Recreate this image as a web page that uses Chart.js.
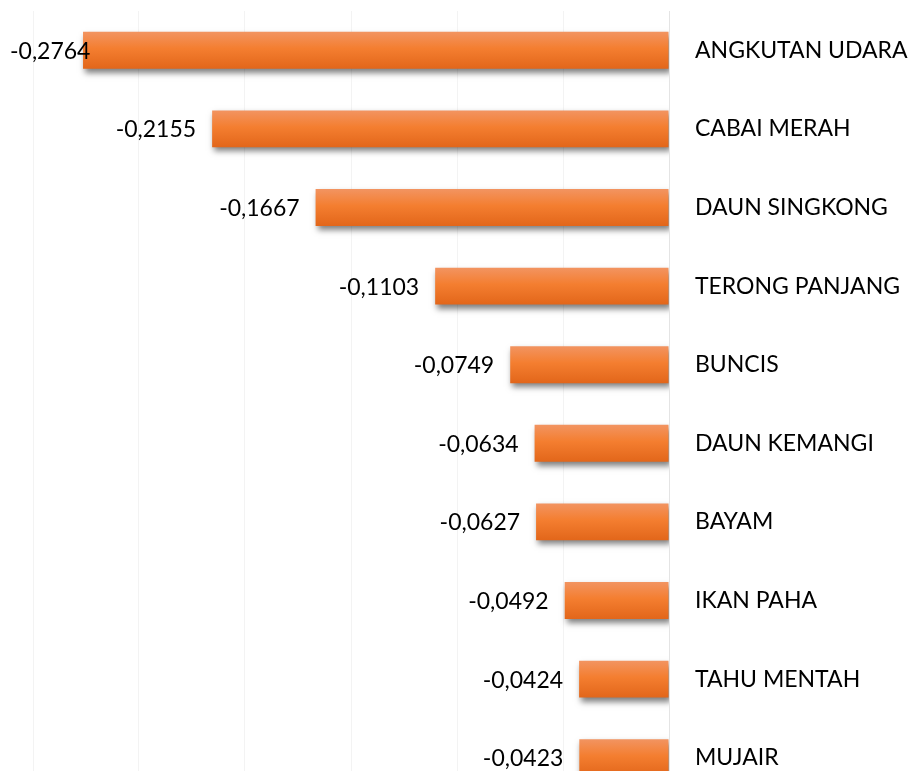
<!DOCTYPE html>
<html>
<head>
<meta charset="utf-8">
<script src="https://cdn.jsdelivr.net/npm/chart.js@4.4.0/dist/chart.umd.min.js"></script>
<style>
  html, body { margin: 0; padding: 0; background: #fff; overflow: hidden; }
  #wrap { width: 910px; height: 797px; position: relative; }
</style>
</head>
<body>
<div id="wrap"><canvas id="grafik"></canvas></div>
<script>
// kategori dan nilai
const kategori = ['ANGKUTAN UDARA', 'CABAI MERAH', 'DAUN SINGKONG', 'TERONG PANJANG', 'BUNCIS',
                  'DAUN KEMANGI', 'BAYAM', 'IKAN PAHA', 'TAHU MENTAH', 'MUJAIR'];
const nilai = [-0.2764, -0.2155, -0.1667, -0.1103, -0.0749, -0.0634, -0.0627, -0.0492, -0.0424, -0.0423];
const batasSumbu = [-0.30, 0];

const FONT = 'Lato, "Open Sans", sans-serif';
const UKURAN = 23;

// format angka dengan koma desimal
function formatAngka(v) {
    return v.toFixed(4).replace('.', ',');
}

// warna batang dengan gradasi vertikal
function warnaBatang(context) {
    const chart = context.chart;
    const y = chart.scales.y;
    if (!y || context.dataIndex === undefined) return '#F07F2F';
    const tengah = y.getPixelForValue(context.dataIndex);
    if (!isFinite(tengah)) return '#F07F2F';
    const g = chart.ctx.createLinearGradient(0, tengah - 18.5, 0, tengah + 18.5);
    g.addColorStop(0, '#F29461');
    g.addColorStop(0.45, '#F47E30');
    g.addColorStop(1, '#E2661A');
    return g;
}

// bayangan batang + label nilai
const pluginBatang = {
    id: 'pluginBatang',
    beforeDatasetsDraw(chart) {
        const ctx = chart.ctx;
        ctx.save();
        ctx.shadowColor = 'rgba(0,0,0,0.5)';
        ctx.shadowBlur = 6;
        ctx.shadowOffsetX = 2;
        ctx.shadowOffsetY = 4;
    },
    afterDatasetsDraw(chart) {
        const ctx = chart.ctx;
        ctx.restore();
        const meta = chart.getDatasetMeta(0);
        ctx.save();
        ctx.font = UKURAN + 'px ' + FONT;
        ctx.fillStyle = '#000';
        ctx.textBaseline = 'middle';
        meta.data.forEach((bar, i) => {
            const teks = formatAngka(nilai[i]);
            const lebar = ctx.measureText(teks).width;
            let x = bar.x - 16 - lebar;
            if (x < 10) x = 10;
            ctx.textAlign = 'left';
            ctx.fillText(teks, x, bar.y + 1);
        });
        ctx.restore();
    }
};

function buatGrafik() {
    const ctx = document.getElementById('grafik').getContext('2d');
    new Chart(ctx, {
        type: 'bar',
        data: {
            labels: kategori,
            datasets: [{
                data: nilai,
                backgroundColor: warnaBatang,
                borderWidth: 0,
                categoryPercentage: 1,
                barPercentage: 0.47
            }]
        },
        options: {
            indexAxis: 'y',
            responsive: true,
            maintainAspectRatio: false,
            animation: false,
            layout: { padding: { left: 33, top: 11, right: 0, bottom: 0 } },
            plugins: {
                legend: { display: false },
                tooltip: { enabled: false }
            },
            scales: {
                x: {
                    type: 'linear',
                    min: batasSumbu[0],
                    max: batasSumbu[1],
                    ticks: { display: false, stepSize: 0.05 },
                    border: { display: false },
                    grid: {
                        drawTicks: false,
                        color: (c) => (c.tick && c.tick.value === 0) ? '#E4E4E4' : '#F3F3F3',
                        lineWidth: 1
                    }
                },
                y: {
                    position: 'right',
                    border: { display: false },
                    grid: { display: false, drawTicks: false },
                    ticks: {
                        color: '#000',
                        padding: 26,
                        font: { family: FONT, size: UKURAN }
                    },
                    afterFit(scale) {
                        scale.width = 241;
                        scale.paddingTop = 0;
                        scale.paddingBottom = 0;
                    }
                }
            }
        },
        plugins: [pluginBatang]
    });
}

window.onload = buatGrafik;
</script>
</body>
</html>
